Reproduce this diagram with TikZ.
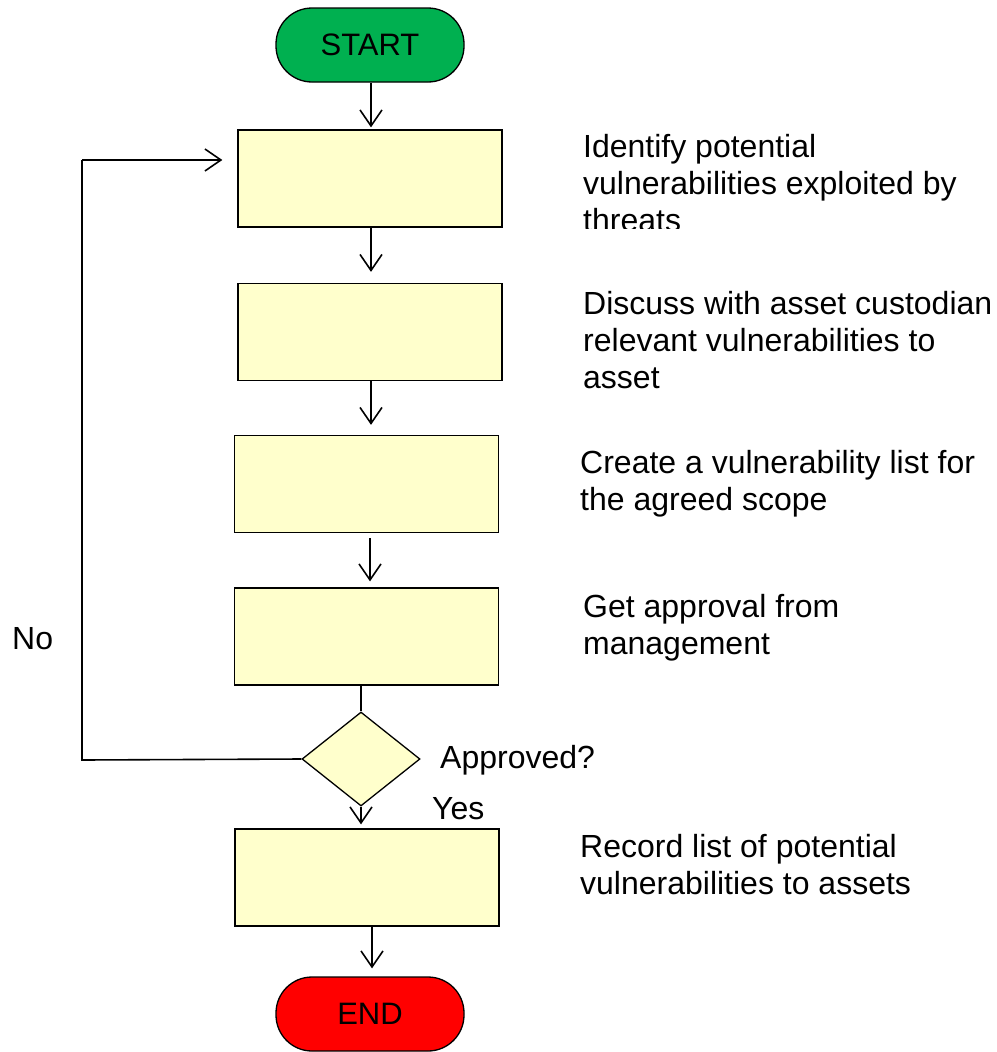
\documentclass[tikz,border=0pt]{standalone}
\usepackage{fontspec}
\setmainfont{Liberation Sans}
\usetikzlibrary{shapes.geometric,arrows.meta}
\definecolor{stepfill}{HTML}{FFFFCC}
\definecolor{startgreen}{HTML}{00B050}
\definecolor{endred}{HTML}{FF0000}
\begin{document}
\begin{tikzpicture}[x=1pt,y=-1pt,
  stepbox/.style={draw=black,line width=1.3pt,fill=stepfill,minimum width=264pt,minimum height=97pt,inner sep=0pt},
  terminal/.style={draw=black,line width=1.3pt,minimum width=188pt,minimum height=74pt,rounded corners=36pt,inner sep=0pt,font=\fontsize{31}{37}\selectfont},
  decision/.style={diamond,draw=black,line width=1.3pt,fill=stepfill,minimum width=118pt,minimum height=94pt,inner sep=0pt},
  note/.style={anchor=north west,inner sep=0pt,align=left,font=\fontsize{32}{37}\selectfont},
  flow/.style={line width=1.6pt,-{Straight Barb[length=16pt,width=22pt,line width=1.6pt]}},
  plain/.style={line width=1.6pt}]
\useasboundingbox (0,0) rectangle (996,1052);

% terminals
\node[terminal,fill=startgreen] (start) at (370,45) {START};
\node[terminal,fill=endred] (stop) at (370,1014) {END};

% process steps
\node[stepbox] (b1) at (370,178.5) {};
\node[stepbox] (b2) at (370,332) {};
\node[stepbox] (b3) at (366.5,484) {};
\node[stepbox] (b4) at (366.5,636.5) {};
\node[stepbox] (b5) at (367,877.5) {};

% decision
\node[decision] (dec) at (361,759) {};

% step descriptions
\begin{scope}
  \clip (560,120) rectangle (996,228);
  \node[note] (t1) at (583,134) {Identify potential\\vulnerabilities exploited by\\threats};
\end{scope}
\node[note] (t2) at (583,291) {Discuss with asset custodian\\relevant vulnerabilities to\\asset};
\node[note] (t3) at (580,450) {Create a vulnerability list for\\the agreed scope};
\node[note] (t4) at (583,594) {Get approval from\\management};
\node[note] (t5) at (580,834) {Record list of potential\\vulnerabilities to assets};
\node[note] (qa) at (440,745) {Approved?};
\node[note] (yes) at (432,797) {Yes};
\node[note] (no) at (12,627) {No};

% main flow
\draw[flow,shorten >=2pt] (start.south -| 371,0) -- (b1.north -| 371,0);
\draw[flow,shorten >=11pt] (b1.south -| 371,0) -- (b2.north -| 371,0);
\draw[flow,shorten >=10pt] (b2.south -| 371,0) -- (b3.north -| 371,0);
\draw[flow,shorten >=6pt] ([yshift=-5pt]b3.south -| 370,0) -- (b4.north -| 370,0);
\draw[plain] (b4.south -| dec.north) -- (dec.north);
\draw[flow,shorten >=4pt] (dec.south) -- (b5.north -| dec.south);
\draw[flow,shorten >=8pt] (b5.south -| 372,0) -- (stop.north -| 372,0);

% rejection loop back to the first step
\coordinate (loopbot) at (82,760);
\coordinate (looptop) at (82,160);
\draw[plain] (dec.west) -- (loopbot) -- (looptop);
\draw[flow,shorten >=15pt] (looptop) -- (looptop -| b1.west);
\end{tikzpicture}
\end{document}
